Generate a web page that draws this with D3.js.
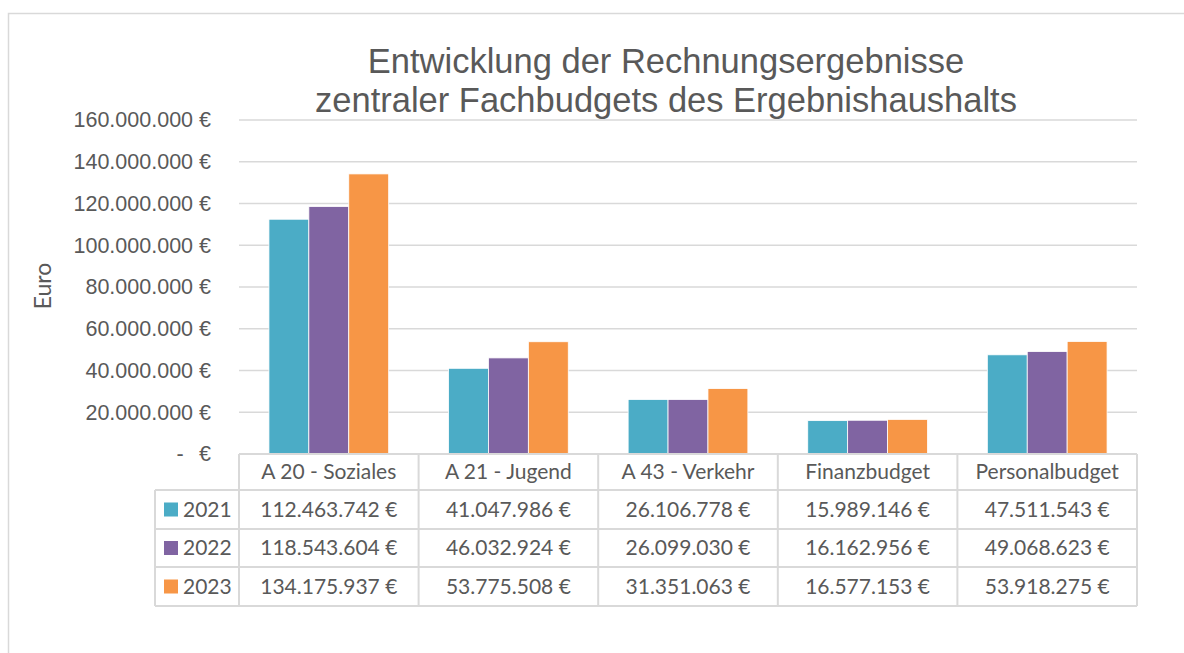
<!DOCTYPE html>
<html>
<head>
<meta charset="utf-8">
<script src="https://cdn.jsdelivr.net/npm/d3@7"></script>
<style>
  body { margin: 0; background: #fff; }
  svg text { fill: #595959; }
</style>
</head>
<body>
<div id="holder"></div>
<script>
const w = 1184;
const h = 653;

// DATA
const categories = ["A 20 - Soziales", "A 21 - Jugend", "A 43 - Verkehr", "Finanzbudget", "Personalbudget"];
const years = ["2021", "2022", "2023"];
const values2021 = [112463742, 41047986, 26106778, 15989146, 47511543];
const values2022 = [118543604, 46032924, 26099030, 16162956, 49068623];
const values2023 = [134175937, 53775508, 31351063, 16577153, 53918275];
const yTicks = [0, 20000000, 40000000, 60000000, 80000000, 100000000, 120000000, 140000000, 160000000];
const colors = ["#4BACC6", "#8064A2", "#F79646"];
const titleLines = ["Entwicklung der Rechnungsergebnisse", "zentraler Fachbudgets des Ergebnishaushalts"];

const series = years.map((y, i) => ({ year: y, values: [values2021, values2022, values2023][i], color: colors[i] }));

// euro format with dots as thousands separator
const fmt = d3.formatLocale({ decimal: ",", thousands: ".", grouping: [3], currency: ["", " €"] });
const euro = v => fmt.format(",")(v) + " €";

const font = "'Liberation Sans', Arial, sans-serif";
const tableFont = "Lato, 'Open Sans', sans-serif";

const plotLeft = 239, plotRight = 1137, plotTop = 120, plotBottom = 454;

const svg = d3.select("#holder").append("svg")
    .attr("width", w)
    .attr("height", h);

// CHART BORDER
svg.append("rect")
    .attr("x", 8.5).attr("y", 13.5)
    .attr("width", 1200).attr("height", 700)
    .attr("fill", "none")
    .attr("stroke", "#d9d9d9")
    .attr("stroke-width", 1.5);

// TITLE
svg.append("g").selectAll("text")
    .data(titleLines)
    .enter().append("text")
    .attr("x", 666)
    .attr("y", (d, i) => 73 + i * 39)
    .attr("text-anchor", "middle")
    .style("font-family", font)
    .style("font-size", "34.5px")
    .text(d => d);

// SCALES
const xScale = d3.scaleBand()
    .domain(categories)
    .range([plotLeft, plotRight]);

const inner = d3.scaleBand()
    .domain(years)
    .range([0, xScale.bandwidth()])
    .paddingInner(0)
    .paddingOuter(0.75);

const yScale = d3.scaleLinear()
    .domain([0, 160000000])
    .range([plotBottom, plotTop]);

// GRIDLINES
svg.append("g").selectAll("line")
    .data(yTicks.filter(d => d > 0))
    .enter().append("line")
    .attr("x1", plotLeft).attr("x2", plotRight)
    .attr("y1", d => yScale(d)).attr("y2", d => yScale(d))
    .attr("stroke", "#d9d9d9")
    .attr("stroke-width", 1.5);

// Y AXIS LABELS
const yAxis = d3.axisLeft(yScale)
    .tickValues(yTicks)
    .tickSize(0)
    .tickPadding(0)
    .tickFormat(d => d === 0 ? "€" : euro(d));

const yg = svg.append("g")
    .attr("transform", "translate(211,0)")
    .call(yAxis);
yg.select(".domain").remove();
yg.selectAll("text")
    .style("font-family", font)
    .style("font-size", "21.5px")
    .attr("fill", "#595959");
// the dash for zero, accounting style
svg.append("text")
    .attr("x", 180)
    .attr("y", yScale(0))
    .attr("dy", "0.32em")
    .attr("text-anchor", "middle")
    .style("font-family", font)
    .style("font-size", "21.5px")
    .text("-");

// Y TITLE
svg.append("text")
    .attr("transform", "translate(51,286) rotate(-90)")
    .attr("text-anchor", "middle")
    .style("font-family", tableFont)
    .style("font-size", "23px")
    .text("Euro");

// BARS
svg.append("g").selectAll("g")
    .data(series)
    .enter().append("g")
    .attr("fill", d => d.color)
    .selectAll("rect")
    .data(d => d.values.map((v, i) => ({ cat: categories[i], year: d.year, v })))
    .enter().append("rect")
    .attr("x", d => xScale(d.cat) + inner(d.year))
    .attr("y", d => yScale(d.v))
    .attr("width", inner.bandwidth())
    .attr("height", d => yScale(0) - yScale(d.v))
    .attr("stroke", "#fff")
    .attr("stroke-width", 0.8);

// DATA TABLE
const rowTops = [454, 490, 529, 567, 606];
const legendLeft = 155;
const grid = svg.append("g")
    .attr("stroke", "#d9d9d9")
    .attr("stroke-width", 2)
    .attr("fill", "none");

// horizontal lines
rowTops.forEach((y, i) => {
    grid.append("line")
        .attr("x1", i === 0 ? plotLeft : legendLeft)
        .attr("x2", plotRight)
        .attr("y1", y).attr("y2", y);
});
// vertical lines
const colEdges = categories.map(c => xScale(c)).concat([plotRight]);
colEdges.forEach(x => {
    grid.append("line")
        .attr("x1", x).attr("x2", x)
        .attr("y1", rowTops[0]).attr("y2", rowTops[4]);
});
grid.append("line")
    .attr("x1", legendLeft).attr("x2", legendLeft)
    .attr("y1", rowTops[1]).attr("y2", rowTops[4]);

// header cells
svg.append("g").selectAll("text")
    .data(categories)
    .enter().append("text")
    .attr("x", d => xScale(d) + xScale.bandwidth() / 2)
    .attr("y", (rowTops[0] + rowTops[1]) / 2)
    .attr("dy", "0.35em")
    .attr("text-anchor", "middle")
    .style("font-family", tableFont)
    .style("font-size", "21px")
    .text(d => d);

// legend keys + values
series.forEach((s, r) => {
    const yMid = (rowTops[r + 1] + rowTops[r + 2]) / 2;
    svg.append("rect")
        .attr("x", 164).attr("y", yMid - 7)
        .attr("width", 14).attr("height", 14)
        .attr("fill", s.color);
    svg.append("text")
        .attr("x", 183).attr("y", yMid)
        .attr("dy", "0.35em")
        .style("font-family", tableFont)
        .style("font-size", "21px")
        .text(s.year);
    svg.append("g").selectAll("text")
        .data(s.values)
        .enter().append("text")
        .attr("x", (d, i) => xScale(categories[i]) + xScale.bandwidth() / 2)
        .attr("y", yMid)
        .attr("dy", "0.35em")
        .attr("text-anchor", "middle")
        .style("font-family", tableFont)
        .style("font-size", "21px")
        .text(d => euro(d));
});
</script>
</body>
</html>
